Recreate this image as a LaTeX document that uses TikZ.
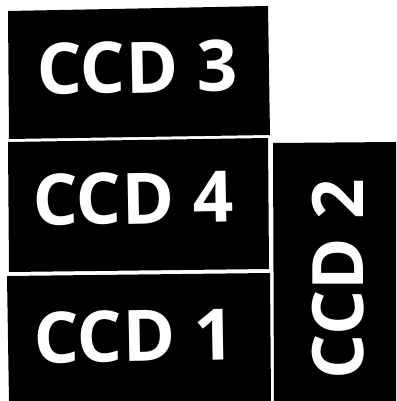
\documentclass[tikz,border=0pt]{standalone}
\usepackage{fontspec}
\setmainfont{Open Sans}
\begin{document}
\begin{tikzpicture}[x=1pt,y=-1pt,
  ccdbox/.style={fill=black,draw=none},
  ccdlabel/.style={text=white,font=\fontsize{71}{71}\selectfont\bfseries,inner sep=0pt,anchor=center}]
\useasboundingbox[fill=white] (0,0) rectangle (396,401);
% CCD 3
\fill[ccdbox] (8,11) -- (268,6) -- (270,135) -- (9,139) -- cycle;
% CCD 4
\fill[ccdbox] (8,142) -- (268,138) -- (269,269) -- (9,272) -- cycle;
% CCD 1
\fill[ccdbox] (7,276) -- (270,273) -- (271,402) -- (9,402) -- cycle;
% CCD 2
\fill[ccdbox] (273,143) -- (396,142) -- (396,402) -- (274,402) -- cycle;
\node[ccdlabel,rotate=1] (c3) at (137,67.5) {CCD 3};
\node[ccdlabel,rotate=1] (c4) at (133,198.5) {CCD 4};
\node[ccdlabel,rotate=1] (c1) at (134,336) {CCD 1};
\node[ccdlabel,rotate=90] (c2) at (338.5,279) {CCD 2};
\end{tikzpicture}
\end{document}
